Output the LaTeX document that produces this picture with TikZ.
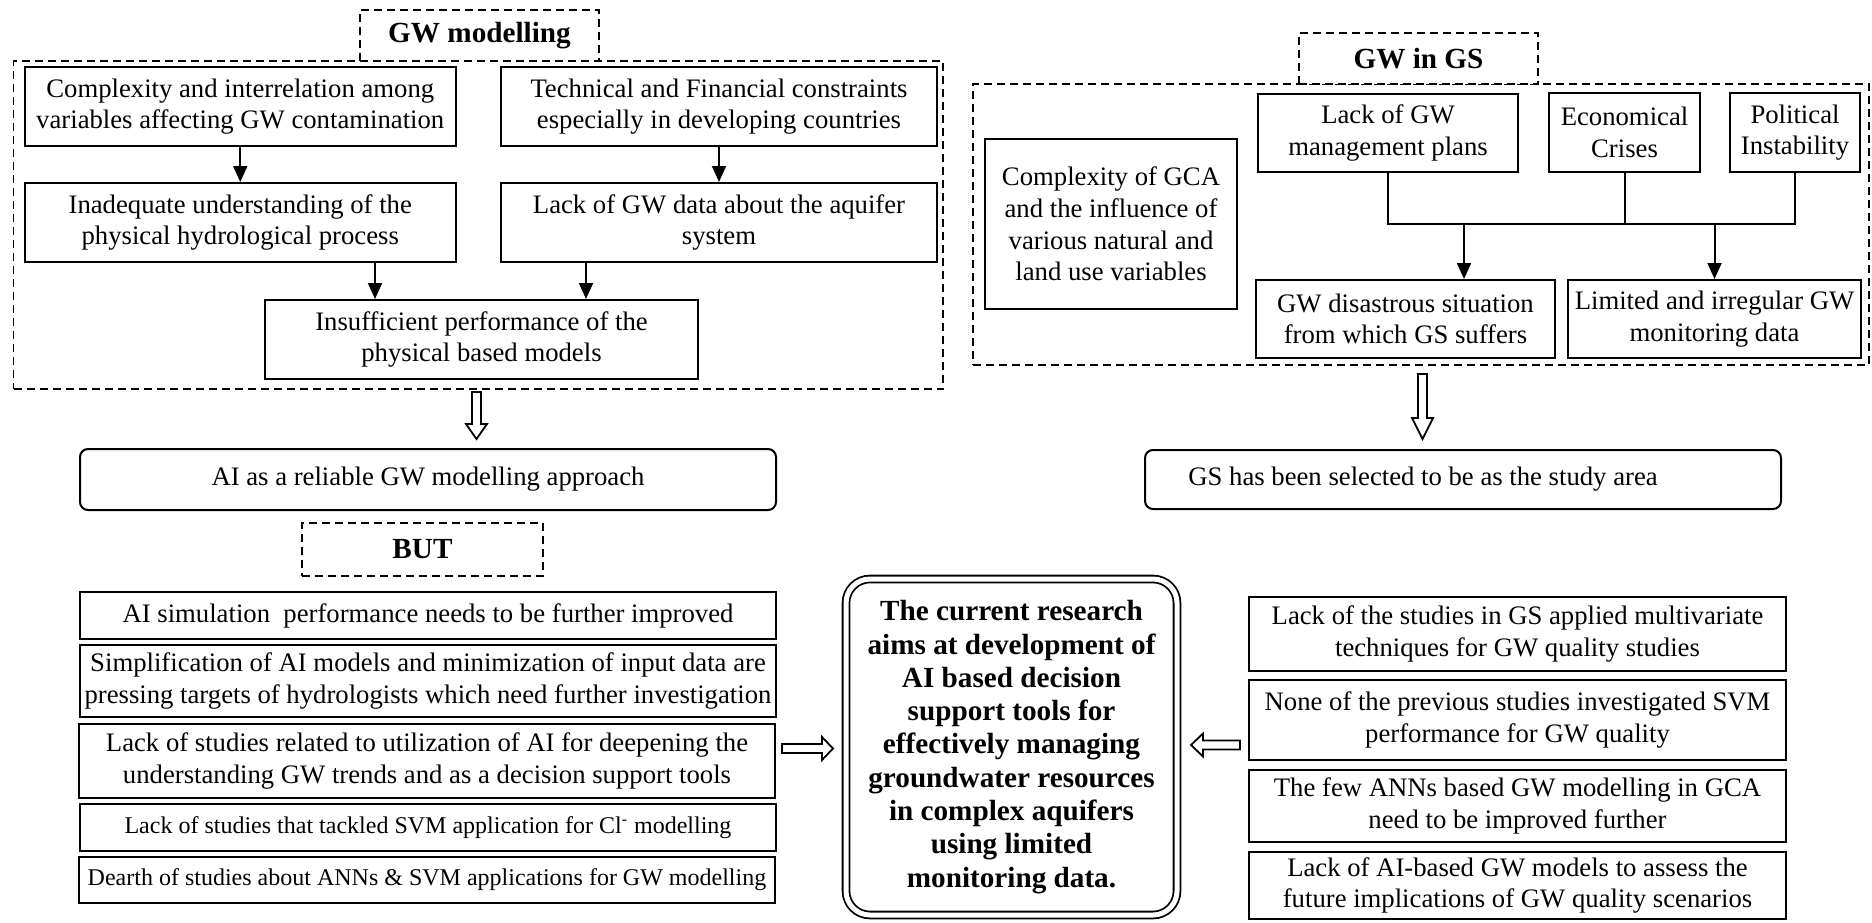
\documentclass[tikz,border=0pt]{standalone}
\usepackage{fontspec}
\setmainfont{Liberation Serif}
\usetikzlibrary{arrows.meta,calc}
\newcommand\fN{\fontsize{13.35pt}{15.8pt}\selectfont}
\newcommand\fS{\fontsize{12pt}{14pt}\selectfont}
\newcommand\fB{\fontsize{14.6pt}{16.65pt}\selectfont\bfseries}
\begin{document}
\begin{tikzpicture}[x=0.5pt,y=-0.5pt,
 sz/.style 2 args={minimum width=#1*0.5pt, minimum height=#2*0.5pt},
 box/.style={draw, line width=1pt, fill=white, inner sep=0pt, align=center, font=\fN},
 sbox/.style={box, font=\fS},
 rbox/.style={box, rounded corners=4pt},
 dbox/.style={draw, line width=0.9pt, dash pattern=on 4pt off 2.5pt, inner sep=0pt},
 lbl/.style={dbox, fill=white, font=\fB},
 arr/.style={line width=1pt, -{Triangle[length=8pt,width=7pt]}},
 conn/.style={line width=1pt},
 hol/.style={line width=0.9pt, fill=white, line join=miter}]
\useasboundingbox (0,0) rectangle (1872,922);

% ---------- left container: GW modelling ----------
\node[dbox, sz={929.5}{328}] (lc) at (478.25,225) {};
\node[lbl, sz={239}{51}] (lcl) at (479.5,35.5) {GW modelling};
\node[box, sz={431.5}{79}] (c1) at (240.25,106.5) {Complexity and interrelation among\\variables affecting GW contamination};
\node[box, sz={436}{79}] (c2) at (719,106.5) {Technical and Financial constraints\\especially in developing countries};
\node[box, sz={431.5}{79}] (c3) at (240.25,222.5) {Inadequate understanding of the\\physical hydrological process};
\node[box, sz={436}{79}] (c4) at (719,222.5) {Lack of GW data about the aquifer\\system};
\node[box, sz={433}{79}] (c5) at (481.5,339.5) {Insufficient performance of the\\physical based models};
\draw[arr] (c1.south) -- (c3.north);
\draw[arr] (c2.south) -- (c4.north);
\coordinate (x1) at (375,0);
\coordinate (x2) at (586,0);
\draw[arr] (c3.south -| x1) -- (c5.north -| x1);
\draw[arr] (c4.south -| x2) -- (c5.north -| x2);

% ---------- right container: GW in GS ----------
\node[dbox, sz={896}{281}] (rc) at (1421,224.5) {};
\node[lbl, sz={239}{51}] (rcl) at (1418.5,58.5) {GW in GS};
\node[box, sz={252}{170}] (g1) at (1111,224) {Complexity of GCA\\and the influence of\\various natural and\\land use variables};
\node[box, sz={260}{78}] (g2) at (1388,133) {Lack of GW\\management plans};
\node[box, sz={151}{79}] (g3) at (1624.5,132.5) {Economical\\Crises};
\node[box, sz={130}{79}] (g4) at (1795,132.5) {Political\\Instability};
\node[box, sz={299}{78}] (g5) at (1405.5,319) {GW disastrous situation\\from which GS suffers};
\node[box, sz={293}{78}] (g6) at (1714.5,319) {Limited and irregular GW\\monitoring data};
\coordinate (bus) at (0,224);
\draw[conn] (g2.south) |- (g4.south |- bus) -- (g4.south);
\draw[conn] (g3.south) -- (g3.south |- bus);
\coordinate (x3) at (1464,224);
\draw[arr] (x3) -- (x3 |- g5.north);
\draw[arr] (g6.north |- bus) -- (g6.north);

% ---------- hollow down arrows ----------
\coordinate (h1) at (476.5,392);
\draw[hol] (h1) ++(-4.5,0) -- ++(9,0) -- ++(0,32) -- ++(6,0) -- ++(-10.5,15) -- ++(-10.5,-15) -- ++(6,0) -- cycle;
\coordinate (h2) at (1422.5,374);
\draw[hol] (h2) ++(-4.5,0) -- ++(9,0) -- ++(0,44) -- ++(6,0) -- ++(-10.5,21) -- ++(-10.5,-21) -- ++(6,0) -- cycle;

% ---------- conclusions ----------
\node[rbox, sz={696}{61}] (ai) at (428,479.5) {AI as a reliable GW modelling approach};
\node[rbox, sz={636}{59}] (gs) at (1463,479.5) {GS has been selected to be as the study area\hspace*{40pt}};
\node[lbl, sz={241}{53}] (but) at (422.5,549.5) {BUT};

% ---------- left list ----------
\node[box, sz={696}{47}] (b1) at (428,615.5) {AI simulation\ \ performance needs to be further improved};
\node[box, sz={696}{72}] (b2) at (428,681) {Simplification of AI models and minimization of input data are\\pressing targets of hydrologists which need further investigation};
\node[box, sz={696}{74}] (b3) at (427,761) {Lack of studies related to utilization of AI for deepening the\\understanding GW trends and as a decision support tools};
\node[sbox, sz={696}{47}] (b4) at (428,827.5) {Lack of studies that tackled SVM application for Cl\textsuperscript{-} modelling};
\node[sbox, sz={696}{46}] (b5) at (427,880) {Dearth of studies about ANNs \& SVM applications for GW modelling};

% ---------- centre ----------
\node[draw, line width=0.9pt, double, double distance=2.5pt, rounded corners=12pt, inner sep=0pt, align=center, font=\fB, sz={331}{336}] (ctr) at (1011.5,747) {The current research\\aims at development of\\AI based decision\\support tools for\\effectively managing\\groundwater resources\\in complex aquifers\\using limited\\monitoring data.};

% ---------- right list ----------
\node[box, sz={537}{74}] (r1) at (1517.5,634) {Lack of the studies in GS applied multivariate\\techniques for GW quality studies};
\node[box, sz={537}{80}] (r2) at (1517.5,720) {None of the previous studies investigated SVM\\performance for GW quality};
\node[box, sz={537}{72}] (r3) at (1517.5,806) {The few ANNs based GW modelling in GCA\\need to be improved further};
\node[box, sz={537}{67}] (r4) at (1517.5,885.5) {Lack of AI-based GW models to assess the\\future implications of GW quality scenarios};

% ---------- hollow horizontal arrows ----------
\coordinate (h3) at (782,748.5);
\draw[hol] (h3) ++(0,-4.5) -- ++(40,0) -- ++(0,-7) -- ++(11,11.5) -- ++(-11,11.5) -- ++(0,-7) -- ++(-40,0) -- cycle;
\coordinate (h4) at (1240,745);
\draw[hol] (h4) ++(0,-4.5) -- ++(-37,0) -- ++(0,-7) -- ++(-12,11.5) -- ++(12,11.5) -- ++(0,-7) -- ++(37,0) -- cycle;
\end{tikzpicture}
\end{document}
